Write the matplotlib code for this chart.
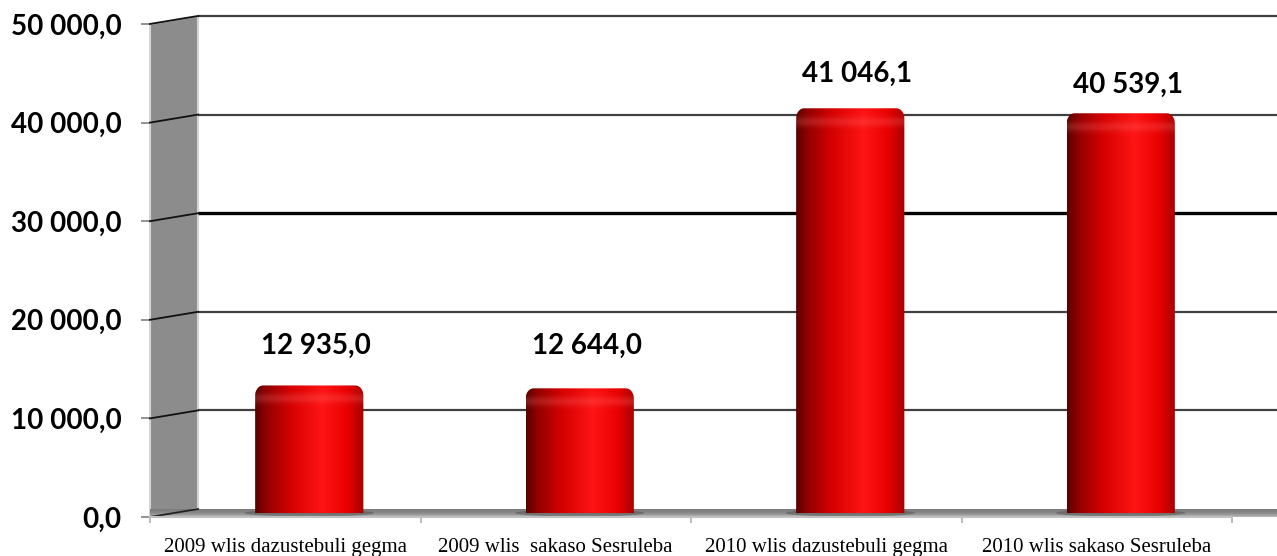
import numpy as np
import matplotlib
matplotlib.use("Agg")
import matplotlib.pyplot as plt
from matplotlib.path import Path
from matplotlib.patches import PathPatch, Polygon, Ellipse
from matplotlib.colors import LinearSegmentedColormap, to_rgb

# ---------------- data ----------------
categories = ["2009 wlis dazustebuli gegma", "2009 wlis  sakaso Sesruleba",
              "2010 wlis dazustebuli gegma", "2010 wlis sakaso Sesruleba"]
values = [12935.0, 12644.0, 41046.1, 40539.1]
yticks = [0, 10000, 20000, 30000, 40000, 50000]

# ---------------- style ----------------
W, H = 1277, 556
fig = plt.figure(figsize=(W / 100, H / 100), dpi=100)
ax = fig.add_axes([150 / W, 39 / H, 1082 / W, 493 / H])
ax.set_xlim(0, 4)
ax.set_ylim(0, 50000)
ax.patch.set_visible(False)

PX_X = 4 / 1082.0          # category units per pixel
PX_Y = 50000 / 493.0       # value units per pixel
DX = 48 * PX_X             # depth offset (3D look)
DY = 8 * PX_Y

num_font = dict(family="Lato", weight="bold", size=20)


def fmt(v):
    return f"{v:,.1f}".replace(",", " ").replace(".", ",")


# side wall
wall = Polygon([(0, 0), (0, 50000), (DX, 50000 + DY), (DX, DY)], closed=True,
               facecolor="#8c8c8c", edgecolor="#d4d4d4", lw=1.5, zorder=1,
               clip_on=False)
ax.add_patch(wall)

# floor
floor_poly = Polygon([(0, 0), (4, 0), (4 + DX, DY), (DX, DY)], closed=True,
                     facecolor="none", edgecolor="none", clip_on=False)
ax.add_patch(floor_poly)
fcmap = LinearSegmentedColormap.from_list("fl", ["#b8b8b8", "#8a8a8a", "#7a7a7a"])
grad = np.linspace(0, 1, 50).reshape(-1, 1)
fim = ax.imshow(grad, cmap=fcmap, extent=(0, 4 + DX, 0, DY), origin="lower",
                aspect="auto", zorder=1.5, clip_on=False)
fim.set_clip_path(floor_poly)

# back gridlines + slanted wall segments
for v in yticks:
    if v == 0:
        ax.plot([0, DX], [0, DY], color="#222222", lw=1.3, zorder=2, clip_on=False)
        continue
    lw, col = (2.4, "#000000") if v == 30000 else (1.6, "#404040")
    ax.plot([DX, 4 + DX], [v + DY, v + DY], color=col, lw=lw, zorder=2,
            clip_on=False, solid_capstyle="butt")
    ax.plot([0, DX], [v, v + DY], color="#111111", lw=1.3, zorder=2.1, clip_on=False)

# cylinders
bar_cmap = LinearSegmentedColormap.from_list(
    "cyl", [(0, "#5a0000"), (0.10, "#900000"), (0.32, "#d40000"),
            (0.62, "#ff1414"), (0.85, "#e80000"), (1.0, "#a80000")])
bw = 0.4
rx = 8 * PX_X
ry = 10 * PX_Y
label_dy = [40, 42, 34, 28]   # px offset of value labels (style)
for i, v in enumerate(values):
    cx = i + 0.5 + DX / 2
    x0, x1 = cx - bw / 2, cx + bw / 2
    y0, y1 = DY / 2, DY / 2 + v
    # shadow at base
    ax.add_patch(Ellipse((cx, DY / 2), bw * 1.2, DY * 0.9, facecolor="#505050",
                         edgecolor="none", alpha=0.5, zorder=2.5, clip_on=False))
    # rounded-top outline
    t = np.linspace(np.pi, np.pi / 2, 12)
    left_arc = np.c_[x0 + rx + rx * np.cos(t), y1 - ry + ry * np.sin(t)]
    t2 = np.linspace(np.pi / 2, 0, 12)
    right_arc = np.c_[x1 - rx + rx * np.cos(t2), y1 - ry + ry * np.sin(t2)]
    verts = np.vstack([[x0, y0], left_arc, right_arc, [x1, y0], [x0, y0]])
    codes = [Path.MOVETO] + [Path.LINETO] * (len(verts) - 2) + [Path.CLOSEPOLY]
    patch = PathPatch(Path(verts, codes), facecolor="none", edgecolor="none",
                      clip_on=False)
    ax.add_patch(patch)
    # 2D gradient image
    ncol, nrow = 200, 300
    base = bar_cmap(np.linspace(0, 1, ncol))[:, :3]
    rows_val = np.linspace(y0, y1, nrow)
    d_px = (y1 - rows_val) / PX_Y
    hl = 0.22 * np.exp(-((d_px - 13) / 5.0) ** 2)
    img = base[None, :, :] * (1 - hl[:, None, None]) + \
        np.array(to_rgb("#ff8080"))[None, None, :] * hl[:, None, None]
    im = ax.imshow(np.clip(img, 0, 1), extent=(x0, x1, y0, y1), origin="lower",
                   aspect="auto", zorder=3, interpolation="bilinear")
    im.set_clip_path(patch)
    ax.annotate(fmt(v), (cx, y1), xytext=(7, label_dy[i]),
                textcoords="offset pixels", ha="center", va="center",
                zorder=5, **num_font)

ax.set_xlim(0, 4)
ax.set_ylim(0, 50000)

# axes decoration
for s in ["top", "right", "left"]:
    ax.spines[s].set_visible(False)
ax.spines["bottom"].set_color("#c0c0c0")
ax.spines["bottom"].set_linewidth(1.5)
ax.set_yticks(yticks)
ax.set_yticklabels([fmt(v) for v in yticks], **num_font)
ax.tick_params(axis="y", length=6.5, width=1.2, color="#808080", pad=14)
ax.set_xticks([0, 1, 2, 3, 4])
ax.set_xticklabels([])
ax.tick_params(axis="x", which="major", length=4, width=1.2, color="#b0b0b0")
ax.set_xticks([0.5, 1.5, 2.5, 3.5], minor=True)
ax.set_xticklabels(categories, minor=True, family="Liberation Serif", size=15)
ax.tick_params(axis="x", which="minor", length=0, pad=15)

fig.savefig("out.png", dpi=100)
